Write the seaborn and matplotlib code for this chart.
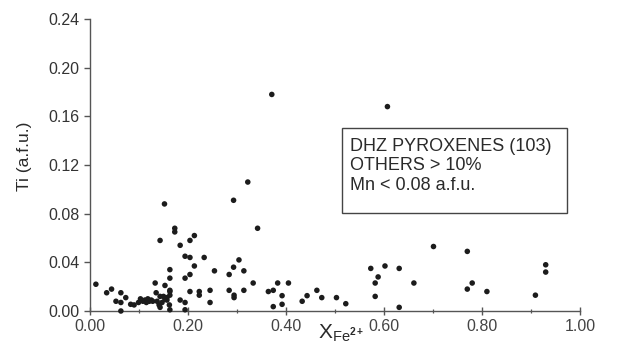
import matplotlib
matplotlib.use("Agg")
import matplotlib.pyplot as plt
from matplotlib.patches import Rectangle
from matplotlib.ticker import MultipleLocator, FormatStrFormatter
import pandas as pd
import seaborn as sns

# Fe2+ fraction of pyroxene analyses
x_fe = [
    0.012, 0.034, 0.044, 0.053, 0.063, 0.063, 0.063, 0.073, 0.083, 0.090,
    0.099, 0.103, 0.108, 0.112, 0.115, 0.118, 0.121, 0.125, 0.128, 0.133,
    0.135, 0.137, 0.141, 0.143, 0.143, 0.143, 0.147, 0.150, 0.152, 0.153,
    0.153, 0.157, 0.157, 0.162, 0.163, 0.163, 0.163, 0.163, 0.163, 0.163,
    0.173, 0.173, 0.184, 0.184, 0.194, 0.194, 0.194, 0.194, 0.204, 0.204,
    0.204, 0.204, 0.213, 0.213, 0.223, 0.223, 0.233, 0.245, 0.245, 0.254,
    0.284, 0.284, 0.293, 0.293, 0.294, 0.294, 0.304, 0.314, 0.314, 0.322,
    0.333, 0.342, 0.364, 0.371, 0.374, 0.374, 0.383, 0.392, 0.392, 0.405,
    0.433, 0.443, 0.463, 0.473, 0.503, 0.522, 0.573, 0.582, 0.582, 0.588,
    0.602, 0.607, 0.631, 0.631, 0.661, 0.701, 0.770, 0.770, 0.780, 0.810,
    0.909, 0.930, 0.930,
]

# Ti content, atoms per formula unit
ti_afu = [
    0.022, 0.015, 0.018, 0.008, 0.015, 0.007, 0.000, 0.011, 0.0055, 0.005,
    0.007, 0.010, 0.008, 0.009, 0.007, 0.010, 0.008, 0.009, 0.008, 0.023,
    0.015, 0.008, 0.005, 0.012, 0.003, 0.058, 0.007, 0.012, 0.088, 0.021,
    0.0096, 0.009, 0.011, 0.005, 0.001, 0.017, 0.016, 0.013, 0.027, 0.034,
    0.068, 0.065, 0.054, 0.009, 0.007, 0.001, 0.045, 0.027, 0.044, 0.058,
    0.030, 0.016, 0.062, 0.037, 0.016, 0.013, 0.044, 0.017, 0.007, 0.033,
    0.030, 0.017, 0.036, 0.091, 0.013, 0.011, 0.042, 0.033, 0.017, 0.106,
    0.023, 0.068, 0.016, 0.178, 0.017, 0.0036, 0.023, 0.0126, 0.0055, 0.023,
    0.008, 0.0126, 0.017, 0.011, 0.011, 0.006, 0.035, 0.023, 0.012, 0.028,
    0.037, 0.168, 0.035, 0.003, 0.023, 0.053, 0.049, 0.018, 0.023, 0.016,
    0.013, 0.038, 0.032,
]

x_ticks = [0.00, 0.20, 0.40, 0.60, 0.80, 1.00]
y_ticks = [0.00, 0.04, 0.08, 0.12, 0.16, 0.20, 0.24]

box_lines = ["DHZ PYROXENES (103)", "OTHERS > 10%", "Mn < 0.08 a.f.u."]

sns.set_style("ticks")
plt.rcParams["font.family"] = ["Liberation Sans", "DejaVu Sans"]
plt.rcParams["mathtext.fontset"] = "custom"
plt.rcParams["mathtext.rm"] = "Liberation Sans"
plt.rcParams["mathtext.it"] = "Liberation Sans"
plt.rcParams["mathtext.bf"] = "Liberation Sans:bold"

ink = "#2a2a2a"
axis_col = "#555555"

df = pd.DataFrame({"xfe": x_fe, "ti": ti_afu})

fig = plt.figure(figsize=(6.17, 3.5), dpi=100)
ax = fig.add_axes([90 / 617, 39 / 350, 490 / 617, 292 / 350])

sns.scatterplot(data=df, x="xfe", y="ti", ax=ax, s=16, color="#1c1c1c",
                edgecolor="none", linewidth=0, legend=False, clip_on=False,
                zorder=3)

ax.set_xlim(0, 1.0)
ax.set_ylim(0, 0.24)
ax.set_xticks(x_ticks)
ax.set_yticks(y_ticks)
ax.xaxis.set_minor_locator(MultipleLocator(0.1))
ax.xaxis.set_major_formatter(FormatStrFormatter("%.2f"))
ax.yaxis.set_major_formatter(FormatStrFormatter("%.2f"))

for side in ("top", "right"):
    ax.spines[side].set_visible(False)
for side in ("left", "bottom"):
    ax.spines[side].set_color(axis_col)
    ax.spines[side].set_linewidth(1.0)

ax.tick_params(axis="x", which="major", direction="inout", length=6,
               width=1.0, color=axis_col, pad=3, labelsize=11.5,
               labelcolor="#444444")
ax.tick_params(axis="x", which="minor", direction="inout", length=3.5,
               width=0.9, color=axis_col)
ax.tick_params(axis="y", which="major", direction="out", length=4.5,
               width=1.0, color=axis_col, pad=3, labelsize=11.5,
               labelcolor="#333333")

ax.set_xlabel(r"$\mathregular{X_{Fe^{\mathbf{2+}}}}$", fontsize=15,
              color=ink, labelpad=0)
ax.xaxis.set_label_coords(0.512, -0.040, transform=ax.transAxes)
ax.xaxis.label.set_verticalalignment("top")
ax.set_ylabel("Ti (a.f.u.)", fontsize=12.5, color=ink, labelpad=6)
ax.yaxis.set_label_coords(-0.118, 0.53)

# framed annotation box
ax.add_patch(Rectangle((0.5137, 0.3346), 0.4592, 0.2911,
                       transform=ax.transAxes, facecolor="white",
                       edgecolor="#444444", linewidth=1.0, zorder=4,
                       clip_on=False))
ax.text(0.531, 0.594, "\n".join(box_lines), transform=ax.transAxes,
        fontsize=13, color=ink, va="top", ha="left", linespacing=1.22,
        zorder=5)

fig.savefig("out.png", dpi=100, facecolor="white")
